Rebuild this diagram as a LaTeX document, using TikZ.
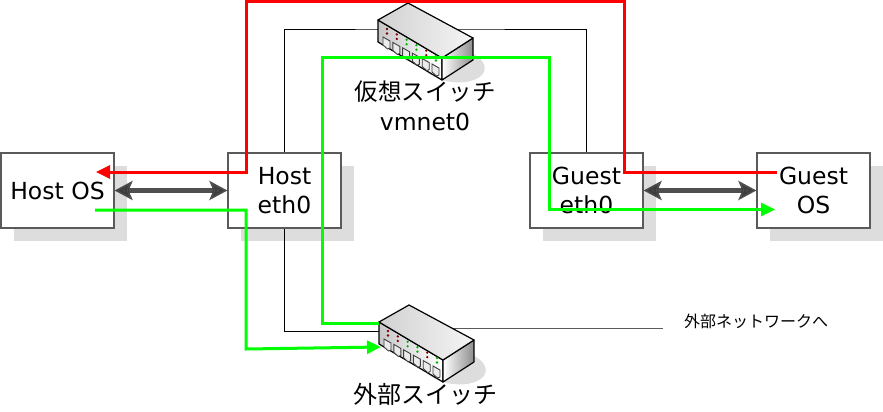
\documentclass[tikz,border=0pt]{standalone}
\usepackage{fontspec}
\setmainfont{DejaVu Sans}
\newfontfamily\cjk{Noto Sans CJK JP}
\usetikzlibrary{arrows.meta,shadows}
\definecolor{boxline}{HTML}{5A5A5A}
\definecolor{boxshadow}{HTML}{DDDDDD}
\definecolor{linkgreen}{HTML}{00FF00}
\definecolor{linkdark}{HTML}{3C3C3C}
\tikzset{
	netbox/.style={draw=boxline,line width=1.1pt,fill=white,minimum width=113pt,minimum height=75pt,inner sep=0pt,
		align=center,font=\fontsize{23.5}{29.5}\selectfont,
		drop shadow={shadow xshift=12.5pt,shadow yshift=-12.5pt,fill=boxshadow,opacity=1}},
	netswitch/.pic={
		\fill[boxshadow] (75,45) ellipse [x radius=32pt,y radius=17pt,rotate=-8];
		\shade[left color=black!22,right color=white,draw=black,line width=1.2pt,line join=round]
			(0,0) -- (0,22) -- (64,60) -- (64,38) -- cycle;
		\shade[left color=white,right color=black!45,draw=black,line width=1.2pt,line join=round]
			(64,38) -- (64,60) -- (95,40) -- (95,18) -- cycle;
		\shade[left color=black!18,right color=black!4,draw=black,line width=1.2pt,line join=round]
			(0,0) -- (30,-17) -- (95,18) -- (64,38) -- cycle;
		\foreach \i/\ledcolor in {0/red!50!black,1/red!50!black,2/green!70!black,3/green!70!black,4/red!50!black,5/green!70!black}{
			\fill[\ledcolor] (9+9.8*\i,9+5.4*\i) circle (1.3pt);
			\fill[\ledcolor] (9+9.8*\i,13.5+5.4*\i) circle (1.3pt);
			\draw[black!75,fill=black!8,line width=.9pt] (5+9.8*\i,17+5.4*\i) -- (12+9.8*\i,21+5.4*\i) -- (12+9.8*\i,28+5.4*\i) -- (9.5+9.8*\i,29+5.4*\i) -- (5+9.8*\i,25+5.4*\i) -- cycle;
		}
	}
}
\begin{document}
\begin{tikzpicture}[x=1pt,y=-1pt]
	\useasboundingbox (0,0) rectangle (883,412);
	\begin{scope}[every node/.style={netbox}]
		\node (hostos) at (57.5,190.5) {Host OS};
		\node (hosteth) at (284.5,190.5) {Host\\eth0};
		\node (guesteth) at (586.5,190.5) {Guest\\eth0};
		\node (guestos) at (813.5,190.5) {Guest\\OS};
	\end{scope}

	\coordinate (vmtop) at (425,29);
	\coordinate (extleft) at (380,331);
	\coordinate (extright) at (440,328);
	\node[anchor=west,font=\cjk\fontsize{16}{18}\selectfont,inner sep=0pt] (exttext) at (684,321) {外部ネットワークへ};
	\coordinate (extend) at (663,328);

	\draw[black,line width=.8pt] (hosteth.north) |- (vmtop) -| (guesteth.north);
	\draw[black,line width=.8pt] (hosteth.south) |- (extleft);
	\draw[boxline,line width=.8pt] (extright) -- (extend);

	\pic (vmswitch) at (378,20) {netswitch};
	\pic (extswitch) at (379,322) {netswitch};

	\node[align=center,font=\fontsize{23.5}{29.5}\selectfont] (vmlabel) at (425,106) {{\cjk 仮想スイッチ}\\vmnet0};
	\node[font=\cjk\fontsize{24}{26}\selectfont] (extlabel) at (425,394) {外部スイッチ};

	\begin{scope}[line width=5pt,>={Stealth[length=18pt,width=19pt,inset=4pt]}]
		\draw[<->,linkdark,opacity=.9] (hostos.east) -- (hosteth.west);
		\draw[<->,linkdark,opacity=.9] (guesteth.east) -- (guestos.west);
	\end{scope}

	\coordinate (redstart) at (96,172);
	\coordinate (redA) at (246,172);
	\coordinate (redB) at (246,2);
	\coordinate (redC) at (624,2);
	\coordinate (redD) at (624,172);
	\coordinate (redend) at (777,172);
	\coordinate (greenA) at (379,323);
	\coordinate (greenB) at (322,323);
	\coordinate (greenC) at (322,58);
	\coordinate (greenD) at (549,58);
	\coordinate (greenE) at (549,209.5);
	\coordinate (greenF) at (775,209.5);
	\coordinate (greenG) at (95,210);
	\coordinate (greenH) at (246,210);
	\coordinate (greenI) at (246,349);
	\coordinate (greenJ) at (381,347);

	\begin{scope}[line width=3pt,>={Triangle[length=14pt,width=13pt]},line join=miter]
		\draw[->,red] (redend) -- (redD) -- (redC) -- (redB) -- (redA) -- (redstart);
		\draw[->,linkgreen] (greenA) -- (greenB) -- (greenC) -- (greenD) -- (greenE) -- (greenF);
		\draw[->,linkgreen] (greenG) -- (greenH) -- (greenI) -- (greenJ);
	\end{scope}
\end{tikzpicture}
\end{document}
